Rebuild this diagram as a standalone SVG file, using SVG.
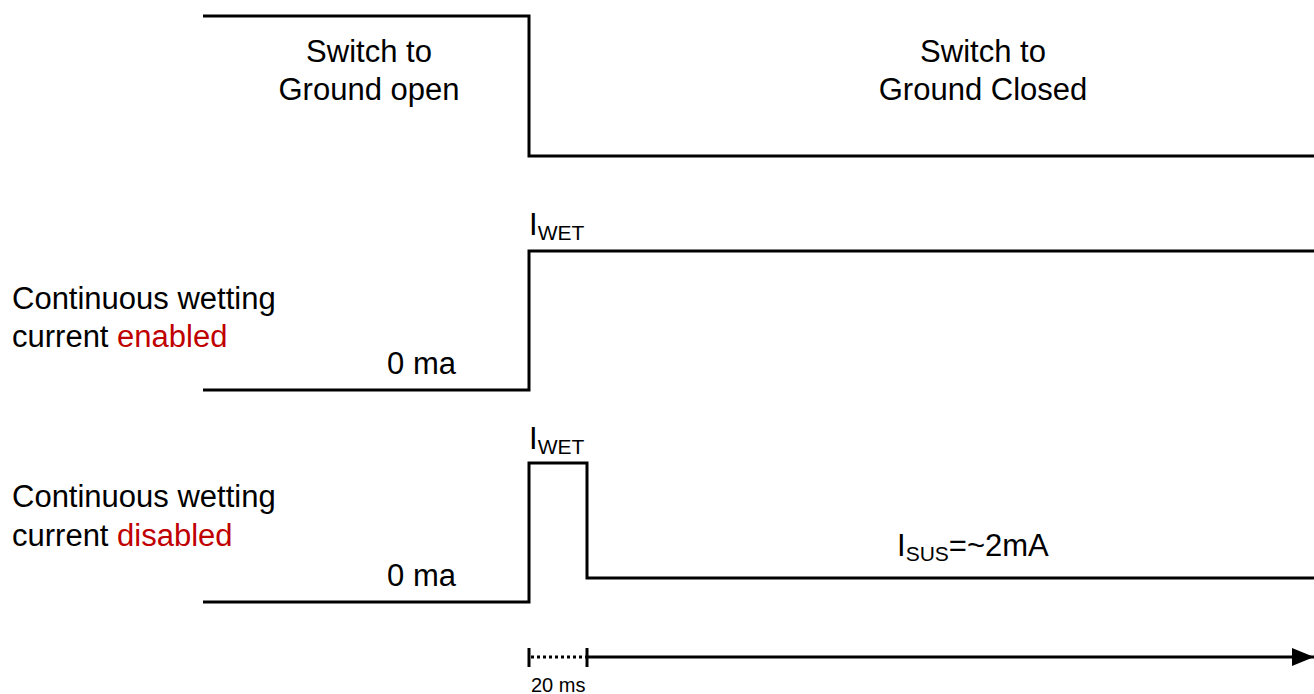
<svg xmlns="http://www.w3.org/2000/svg" width="1314" height="694" viewBox="0 0 1314 694">
<defs>
<style>
.w{fill:none;stroke:#000;stroke-width:3;stroke-linejoin:miter}
.t{font-family:"Liberation Sans",Arial,sans-serif;font-size:31px;fill:#000}
.s{font-size:21px}
.r{fill:#c00000}
</style>
<marker id="ah" markerWidth="22" markerHeight="18" refX="22" refY="9" orient="auto" markerUnits="userSpaceOnUse"><path d="M0,0 L22,9 L0,18 Z" fill="#000"/></marker>
</defs>
<rect width="1314" height="694" fill="#fff"/>
<g id="connectors">
<polyline id="sw" class="w" points="203,16 529,16 529,156 1314,156"/>
<polyline id="en" class="w" points="203,390 529,390 529,251 1314,251"/>
<polyline id="dis" class="w" points="203,602 529,602 529,463 587,463 587,578 1314,578"/>
<line x1="529" y1="648" x2="529" y2="667" class="w"/>
<line x1="587" y1="648" x2="587" y2="667" class="w"/>
<line x1="531" y1="657" x2="586" y2="657" stroke="#000" stroke-width="3" stroke-dasharray="3,3"/>
<line x1="587" y1="657" x2="1314" y2="657" stroke="#000" stroke-width="3" marker-end="url(#ah)"/>
</g>
<g id="label-open"><text class="t" x="369" y="62" text-anchor="middle">Switch to</text><text class="t" x="369" y="100" text-anchor="middle">Ground open</text></g>
<g id="label-closed"><text class="t" x="983" y="62" text-anchor="middle">Switch to</text><text class="t" x="983" y="100" text-anchor="middle">Ground Closed</text></g>
<g id="label-enabled"><text class="t" x="12" y="309">Continuous wetting</text><text class="t" x="12" y="347">current <tspan class="r">enabled</tspan></text></g>
<g id="label-disabled"><text class="t" x="12" y="507">Continuous wetting</text><text class="t" x="12" y="546">current <tspan class="r">disabled</tspan></text></g>
<g id="zero1"><text class="t" x="456" y="374" text-anchor="end">0 ma</text></g>
<g id="zero2"><text class="t" x="456" y="586" text-anchor="end">0 ma</text></g>
<g id="iwet1"><text class="t" x="529" y="235">I<tspan class="s" dy="5">WET</tspan></text></g>
<g id="iwet2"><text class="t" x="529" y="449">I<tspan class="s" dy="5">WET</tspan></text></g>
<g id="isus"><text class="t" x="897" y="556">I<tspan class="s" dy="5">SUS</tspan><tspan dy="-5">=~2mA</tspan></text></g>
<g id="t20"><text class="t" x="531" y="692" style="font-size:20px">20 ms</text></g>
</svg>
